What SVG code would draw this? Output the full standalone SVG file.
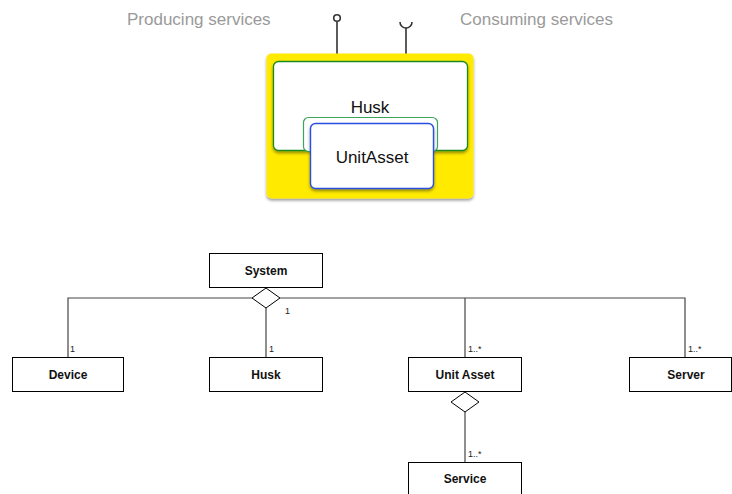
<svg xmlns="http://www.w3.org/2000/svg" width="732" height="494" viewBox="0 0 732 494">
  <defs>
    <filter id="shadow" x="-10%" y="-10%" width="125%" height="130%">
      <feGaussianBlur in="SourceAlpha" stdDeviation="1.5"/>
      <feOffset dx="0" dy="2" result="blur"/>
      <feComponentTransfer><feFuncA type="linear" slope="0.4"/></feComponentTransfer>
      <feMerge><feMergeNode/><feMergeNode in="SourceGraphic"/></feMerge>
    </filter>
  </defs>
  <style>
    .caption { font-family: "Helvetica", "Liberation Sans", Arial, sans-serif; font-size: 17px; fill: #9a9a9a; }
    .comp { font-family: "Helvetica", "Liberation Sans", Arial, sans-serif; font-size: 17px; fill: #111; text-anchor: middle; }
    .pin { stroke: #333; stroke-width: 1.6; fill: none; }
    .cls rect { fill: #fff; stroke: #000; stroke-width: 1; }
    .cls text { font-family: "Liberation Sans", Arial, sans-serif; font-size: 12px; font-weight: bold; fill: #111; text-anchor: middle; }
    .conn line, .conn polyline { stroke: #444; stroke-width: 1.2; fill: none; }
    .conn polygon { fill: #fff; stroke: #000; stroke-width: 1; }
    .mult { font-family: "Liberation Sans", Arial, sans-serif; font-size: 9px; fill: #222; }
  </style>

  <!-- Upper component picture -->
  <text class="caption" x="127" y="25">Producing services</text>
  <text class="caption" x="460" y="25">Consuming services</text>

  <g id="pins">
    <line class="pin" x1="337" y1="21.5" x2="337" y2="62"/>
    <circle class="pin" cx="337" cy="18" r="3.3" stroke-width="1.3"/>
    <line class="pin" x1="406" y1="28" x2="406" y2="62"/>
    <path class="pin" d="M400 22 A6 6 0 0 0 412 22" stroke-width="1.3"/>
  </g>

  <g id="system-box">
    <rect x="266.5" y="53.5" width="207" height="145" rx="5" fill="#ffea00" filter="url(#shadow)"/>
  </g>
  <g id="husk-box">
    <rect x="273.5" y="61.5" width="194" height="89" rx="5" fill="#fff" stroke="#1f8a1f" stroke-width="1.3" filter="url(#shadow)"/>
    <text class="comp" x="370" y="113">Husk</text>
  </g>
  <g id="husk-slot">
    <rect x="303.5" y="117.5" width="134" height="34" rx="5" fill="#fff" stroke="#3aa45a" stroke-width="1.2"/>
  </g>
  <g id="unitasset-box">
    <rect x="310.5" y="123.5" width="123" height="65" rx="5" fill="#fff" stroke="#2a4fe0" stroke-width="1.4" filter="url(#shadow)"/>
    <text class="comp" x="372" y="163">UnitAsset</text>
  </g>

  <!-- Lower class diagram -->
  <g id="connectors" class="conn">
    <polyline points="68,357 68,298 252,298"/>
    <polyline points="280,298 685,298 685,357"/>
    <line x1="465" y1="298" x2="465" y2="357"/>
    <line x1="266" y1="308" x2="266" y2="357"/>
    <polygon points="266,288 280,298 266,308 252,298"/>
    <line x1="465" y1="412" x2="465" y2="462"/>
    <polygon points="465,392 479,402 465,412 451,402"/>
    <text class="mult" x="285" y="314">1</text>
    <text class="mult" x="70" y="352">1</text>
    <text class="mult" x="269" y="352">1</text>
    <text class="mult" x="468" y="352">1..*</text>
    <text class="mult" x="688" y="352">1..*</text>
    <text class="mult" x="468" y="457">1..*</text>
  </g>

  <g id="system" class="cls">
    <rect x="209.5" y="253.5" width="113" height="34"/>
    <text x="266" y="275">System</text>
  </g>
  <g id="device" class="cls">
    <rect x="12.5" y="357.5" width="111" height="34"/>
    <text x="68" y="379">Device</text>
  </g>
  <g id="husk" class="cls">
    <rect x="209.5" y="357.5" width="113" height="34"/>
    <text x="266" y="379">Husk</text>
  </g>
  <g id="unit-asset" class="cls">
    <rect x="408.5" y="357.5" width="113" height="34"/>
    <text x="465" y="379">Unit Asset</text>
  </g>
  <g id="server" class="cls">
    <rect x="629.5" y="357.5" width="102" height="34"/>
    <text x="686" y="379">Server</text>
  </g>
  <g id="service" class="cls">
    <rect x="408.5" y="462.5" width="113" height="34"/>
    <text x="465" y="483">Service</text>
  </g>
</svg>
